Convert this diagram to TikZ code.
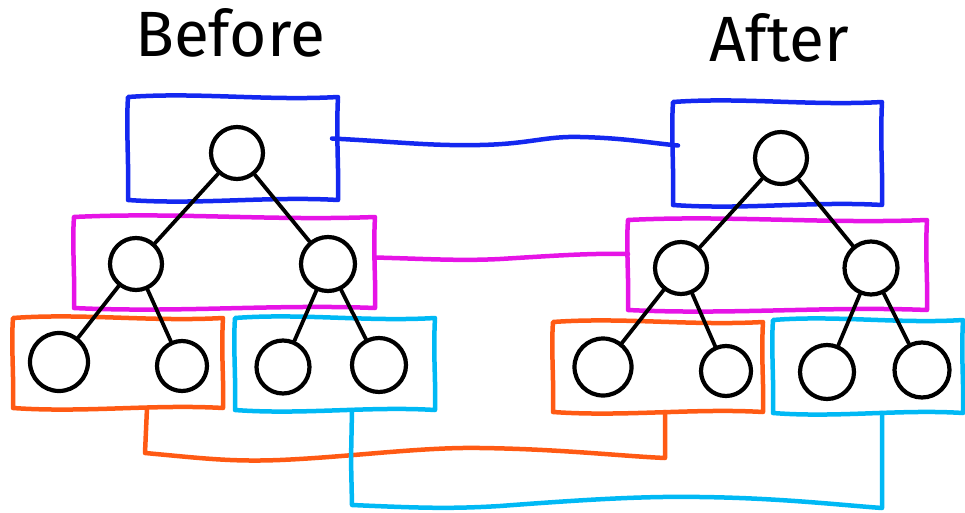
\documentclass[tikz,border=0pt]{standalone}
\usepackage{fontspec}
\setmainfont{Fira Sans}
\usetikzlibrary{calc}
\definecolor{cblue}{RGB}{20,40,240}
\definecolor{cmag}{RGB}{230,20,230}
\definecolor{corange}{RGB}{255,90,20}
\definecolor{ccyan}{RGB}{0,185,245}
\tikzset{
 grp/.style={rectangle, inner sep=0pt, outer sep=0pt, draw=none},
 nd/.style={circle, draw=black, line width=4.2pt, inner sep=0pt, minimum size=#1},
 nd/.default=52pt,
 edge/.style={draw=black, line width=3.8pt, line cap=round},
 boxline/.style={line width=4.5pt, line join=round, line cap=round},
 link/.style={line width=4.5pt, line join=round, line cap=round},
 title/.style={font=\fontsize{64}{70}\selectfont, anchor=base}
}
\newcommand{\wbox}[2]{%
 \draw[boxline,#2] (#1.north west)
  .. controls ($(#1.north west)!0.33!(#1.north east)+(0,-5)$) and ($(#1.north west)!0.66!(#1.north east)+(0,4)$) .. (#1.north east)
  .. controls ($(#1.north east)!0.4!(#1.south east)+(-2,0)$) and ($(#1.north east)!0.7!(#1.south east)+(1,0)$) .. (#1.south east)
  .. controls ($(#1.south east)!0.33!(#1.south west)+(0,-4)$) and ($(#1.south east)!0.66!(#1.south west)+(0,5)$) .. (#1.south west)
  .. controls ($(#1.south west)!0.35!(#1.north west)+(1,0)$) and ($(#1.south west)!0.7!(#1.north west)+(-2,0)$) .. cycle;}
\begin{document}
\begin{tikzpicture}[x=1pt,y=-1pt]
\useasboundingbox (0,0) rectangle (965,513);
% titles
\node[title] (tB) at (230,57) {Before};
\node[title] (tA) at (779,62) {After};
% group boxes
\node[grp, minimum width=210pt, minimum height=103pt] (bB) at (233,148.5) {};
\node[grp, minimum width=209pt, minimum height=103pt] (bA) at (777.5,153.5) {};
\node[grp, minimum width=301pt, minimum height=91pt] (mB) at (224.5,262.5) {};
\node[grp, minimum width=299pt, minimum height=90pt] (mA) at (777.5,265) {};
\node[grp, minimum width=210pt, minimum height=90pt] (oB) at (118,363) {};
\node[grp, minimum width=200pt, minimum height=92pt] (cB) at (335,364) {};
\node[grp, minimum width=210pt, minimum height=90pt] (oA) at (658,367) {};
\node[grp, minimum width=190pt, minimum height=93pt] (cA) at (868,366.5) {};
\wbox{bB}{cblue}
\wbox{bA}{cblue}
\wbox{mB}{cmag}
\wbox{mA}{cmag}
\wbox{oB}{corange}
\wbox{cB}{ccyan}
\wbox{oA}{corange}
\wbox{cA}{ccyan}
% tree nodes before
\node[nd] (rB) at (237,153) {};
\node[nd] (l1B) at (136,264) {};
\node[nd=54pt] (r1B) at (328,264) {};
\node[nd=58pt] (llB) at (59,362) {};
\node[nd=50pt] (lrB) at (182,366) {};
\node[nd=53pt] (rlB) at (283,367) {};
\node[nd=54pt] (rrB) at (379,365) {};
% tree nodes after
\node[nd] (rA) at (781,158) {};
\node[nd] (l1A) at (681,268) {};
\node[nd=53pt] (r1A) at (871,268) {};
\node[nd=57pt] (llA) at (603,367) {};
\node[nd=50pt] (lrA) at (726,371) {};
\node[nd=54pt] (rlA) at (827,372) {};
\node[nd=55pt] (rrA) at (922,370) {};
% tree edges
\draw[edge] (rB) -- (l1B);
\draw[edge] (rB) -- (r1B);
\draw[edge] (l1B) -- (llB);
\draw[edge] (l1B) -- (lrB);
\draw[edge] (r1B) -- (rlB);
\draw[edge] (r1B) -- (rrB);
\draw[edge] (rA) -- (l1A);
\draw[edge] (rA) -- (r1A);
\draw[edge] (l1A) -- (llA);
\draw[edge] (l1A) -- (lrA);
\draw[edge] (r1A) -- (rlA);
\draw[edge] (r1A) -- (rrA);
% connectors between groups
\draw[link,cblue] ($(bB.east)+(-6,-10)$) .. controls (400,142) and (430,146) .. (480,145)
  .. controls (530,144) and (545,136) .. (580,137)
  .. controls (625,138) and (650,143) .. ($(bA.west)+(5,-8)$);
\draw[link,cmag] ($(mB.east)+(0,-5)$) .. controls (430,259) and (460,261) .. (500,259)
  .. controls (550,256) and (590,253) .. ($(mA.west)+(0,-11)$);
\draw[link,corange] ($(oB.south)+(29,0)$) -- (145,453)
  .. controls (200,458) and (230,462) .. (280,460)
  .. controls (350,457) and (420,447) .. (480,448)
  .. controls (560,449) and (620,456) .. (665,458) -- ($(oA.south)+(7,0)$);
\draw[link,ccyan] ($(cB.south)+(17,0)$) -- (351,460) -- (352,505)
  .. controls (420,508) and (450,509) .. (500,506)
  .. controls (580,500) and (640,496) .. (700,497)
  .. controls (780,498) and (840,505) .. (882,508) -- ($(cA.south)+(14,0)$);
\end{tikzpicture}
\end{document}
